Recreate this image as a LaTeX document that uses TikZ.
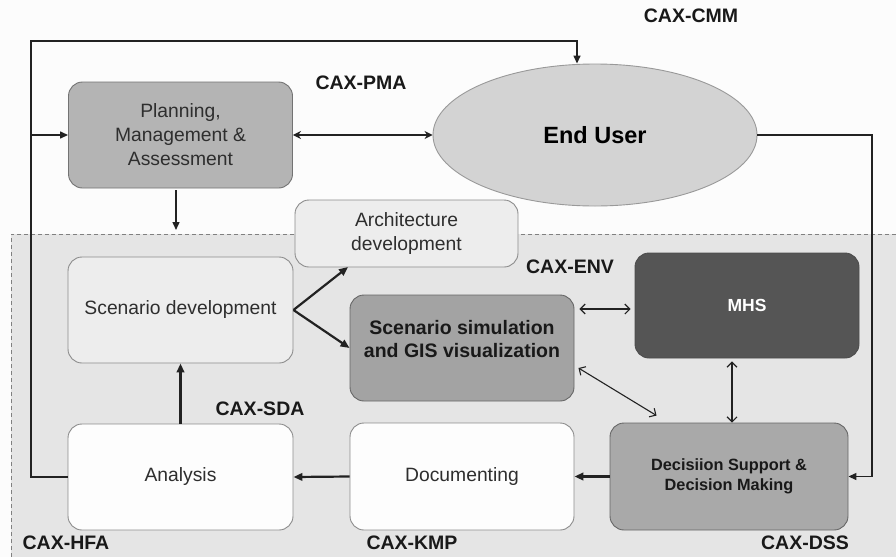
\documentclass[tikz,border=0pt]{standalone}
\usepackage{fontspec}
\setmainfont{Liberation Sans}
\usetikzlibrary{arrows.meta,shapes.geometric,calc}
\definecolor{pagebg}{HTML}{FCFCFC}
\definecolor{zone}{HTML}{E5E5E5}
\definecolor{plfill}{HTML}{B4B4B4}
\definecolor{eufill}{HTML}{D3D3D3}
\definecolor{lightbox}{HTML}{EDEDED}
\definecolor{simfill}{HTML}{A3A3A3}
\definecolor{mhsfill}{HTML}{555555}
\definecolor{dssfill}{HTML}{A9A9A9}
\definecolor{whitebox}{HTML}{FDFDFD}
\definecolor{txtgray}{HTML}{2E2E2E}
\definecolor{linec}{HTML}{222222}
\begin{document}
\begin{tikzpicture}[x=1pt,y=-1pt,
  box/.style={rounded corners=14pt, inner sep=0pt, align=center, line width=0.9pt, text=txtgray,
    font=\fontsize{19.3}{24}\selectfont},
  boldtxt/.style={font=\bfseries\fontsize{19.5}{22.7}\selectfont, text=black!90, align=center},
  cax/.style={font=\bfseries\fontsize{19.5}{22}\selectfont, text=black!90, inner sep=0pt},
  conn/.style={draw=linec, line width=1.4pt},
  fillarrow/.style={conn, -{Triangle[length=8pt,width=7pt]}},
  fillboth/.style={draw=linec, line width=1.8pt, {Stealth[length=8pt,width=8pt]}-{Stealth[length=8pt,width=8pt]}},
  openboth/.style={draw=linec, line width=1.1pt, {Straight Barb[length=5pt,width=10pt]}-{Straight Barb[length=5pt,width=10pt]}},
  thickarrow/.style={draw=linec, line width=2.2pt, -{Triangle[length=9pt,width=7.5pt]}}]
\useasboundingbox (0,0) rectangle (896,557);
\fill[pagebg] (0,0) rectangle (896,557);
% dashed zone
\fill[zone] (11,234) rectangle (896,557);
\draw[gray, line width=0.9pt, dashed, dash pattern=on 4pt off 3pt] (896,234) -- (11,234) -- (11,557);

% nodes
\node[box, draw=gray!90!black, fill=plfill, minimum width=224, minimum height=106] (pl) at (180.5,135) {Planning,\\Management \&\\Assessment};
\node[ellipse, draw=gray!80, fill=eufill, line width=0.9pt, minimum width=324, minimum height=142, inner sep=0pt,
  font=\bfseries\fontsize{23.5}{28}\selectfont] (eu) at (595,135) {End User};
\node[box, draw=gray!90, fill=lightbox, minimum width=223, minimum height=67] (arch) at (406.5,233.5) {Architecture\\development};
\node[box, draw=gray!90, fill=lightbox, minimum width=225, minimum height=106] (sd) at (180.5,310) {Scenario development};
\node[box, draw=gray!80!black, fill=simfill, minimum width=224, minimum height=106] (ss) at (462,348) {};
\node[boldtxt] (sstxt) at (462,339) {Scenario simulation\\and GIS visualization};
\node[box, draw=gray!60!black, fill=mhsfill, minimum width=224, minimum height=105, text=white,
  font=\bfseries\fontsize{17.5}{20}\selectfont] (mhs) at (747,305.5) {MHS};
\node[box, draw=gray!80!black, fill=dssfill, minimum width=238, minimum height=107, text=black!90,
  font=\bfseries\fontsize{16.3}{20}\selectfont] (dss) at (729,476.5) {Decisiion Support \&\\Decision Making};
\node[box, draw=gray!90, fill=whitebox, minimum width=224, minimum height=107] (doc) at (462,476.5) {Documenting};
\node[box, draw=gray!90, fill=whitebox, minimum width=225, minimum height=106] (an) at (180.5,477) {Analysis};

% labels
\node[cax] (lcmm) at (691,16) {CAX-CMM};
\node[cax] (lpma) at (361,83) {CAX-PMA};
\node[cax] (lenv) at (570,267) {CAX-ENV};
\node[cax] (lsda) at (260,409) {CAX-SDA};
\node[cax] (lhfa) at (66,543) {CAX-HFA};
\node[cax] (lkmp) at (412,543) {CAX-KMP};
\node[cax] (ldss) at (805,543) {CAX-DSS};

% coordinates
\coordinate (lc) at (31,41);
\coordinate (tc) at (577,41);
\coordinate (rc) at (872,136);
\coordinate (pd) at (176,230);
\coordinate (ab) at (348,267);
\coordinate (vm) at (732,0);

% connectors
\draw[conn, -{Triangle[length=8pt,width=7pt]}] (an.west) -- (an.west -| lc) -- (lc) -- (tc) -- (tc |- eu.north);
\draw[fillarrow] (lc |- pl.west) -- (pl.west);
\draw[fillboth] (pl.east) -- (eu.west);
\draw[conn, -{Triangle[length=8pt,width=7pt]}] (eu.east) -- (eu.east -| rc) -- (rc |- dss.east) -- (dss.east);
\draw[fillarrow] (pl.south -| pd) ++(0,2) -- (pd);
\draw[thickarrow] (sd.east) -- (ab);
\draw[thickarrow] (sd.east) -- (ss.west);
\draw[openboth] ($(ss.east)+(5,-39)$) -- ($(mhs.west)+(-4,3.5)$);
\draw[openboth] ($(ss.east)+(4,20)$) -- ($(dss.north west)+(47,-7)$);
\draw[openboth] ($(vm |- mhs.south)+(0,3)$) -- (vm |- dss.north);
\draw[thickarrow] (dss.west) -- (doc.east);
\draw[thickarrow] (doc.west) -- (an.east);
\draw[thickarrow] (an.north) -- (sd.south);
\end{tikzpicture}
\end{document}
